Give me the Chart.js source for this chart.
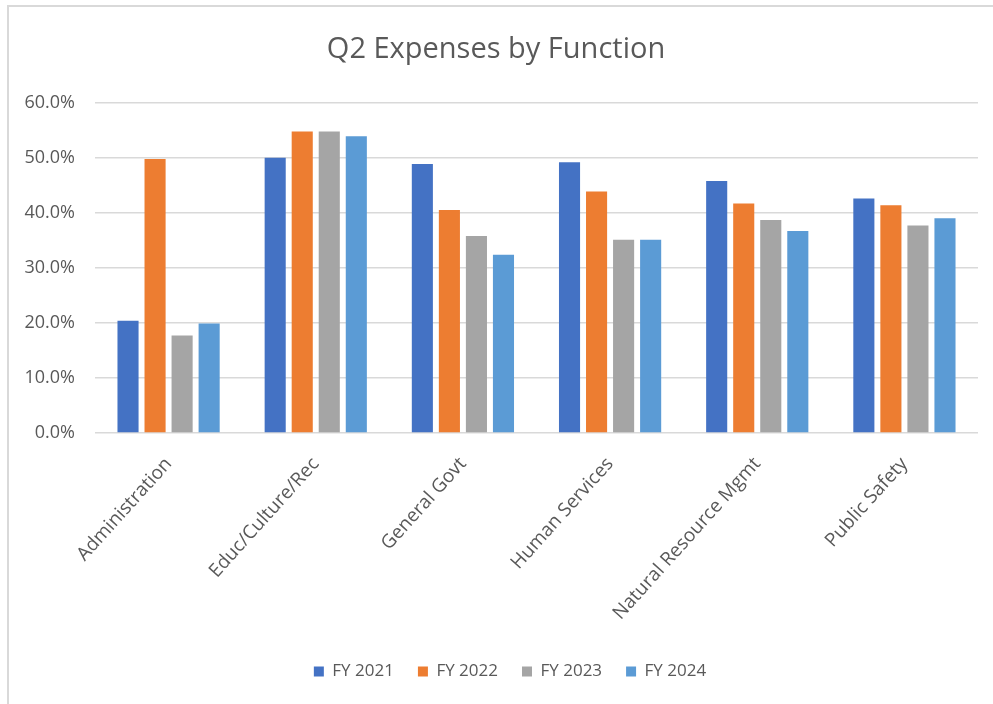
<!DOCTYPE html>
<html>
<head>
  <meta charset="UTF-8">
  <title>Q2 Expenses by Function</title>
  <script src="https://cdn.jsdelivr.net/npm/chart.js"></script>
  <style>
    html, body { margin: 0; padding: 0; background: #fff; }
    #wrap { position: relative; width: 993px; height: 704px; }
    #chart { position: absolute; left: 0; top: 0; }
    /* thin frame along the top and left edge */
    #frame {
      position: absolute; left: 7px; top: 5px; right: 0; bottom: 0;
      border-top: 2px solid #d9d9d9; border-left: 2px solid #d9d9d9;
      pointer-events: none;
    }
  </style>
</head>
<body>
  <div id="wrap">
    <canvas id="chart" width="993" height="704"></canvas>
    <div id="frame"></div>
  </div>
  <script>
    var categories = ['Administration', 'Educ/Culture/Rec', 'General Govt', 'Human Services', 'Natural Resource Mgmt', 'Public Safety'];
    var seriesNames = ['FY 2021', 'FY 2022', 'FY 2023', 'FY 2024'];
    var fy2021 = [20.4, 50.0, 48.9, 49.2, 45.8, 42.6];
    var fy2022 = [49.8, 54.8, 40.5, 43.9, 41.7, 41.4];
    var fy2023 = [17.7, 54.8, 35.8, 35.1, 38.7, 37.7];
    var fy2024 = [19.9, 53.9, 32.4, 35.1, 36.7, 39.0];
    var yTicks = [0, 10, 20, 30, 40, 50, 60];

    var colors = ['#4472C4', '#ED7D31', '#A5A5A5', '#5B9BD5'];
    var values = [fy2021, fy2022, fy2023, fy2024];
    var textColor = '#595959';
    var fontFamily = '"Open Sans", "Noto Sans", sans-serif';

    var datasets = seriesNames.map(function (name, i) {
      return {
        label: name,
        data: values[i],
        backgroundColor: colors[i],
        borderWidth: 0,
        categoryPercentage: 0.735,
        barPercentage: 0.78
      };
    });

    // nudge the legend a little right of centre
    var legendShift = {
      id: 'legendShift',
      afterLayout: function (chart) {
        chart.legend.left += 14;
        chart.legend.right += 14;
      }
    };

    new Chart(document.getElementById('chart').getContext('2d'), {
      type: 'bar',
      data: { labels: categories, datasets: datasets },
      plugins: [legendShift],
      options: {
        responsive: false,
        animation: false,
        layout: { padding: { left: 14, right: 15, top: 20, bottom: 14 } },
        plugins: {
          title: {
            display: true,
            text: 'Q2 Expenses by Function',
            color: textColor,
            font: { family: fontFamily, size: 29, weight: 'normal' },
            padding: { top: 12, bottom: 36 }
          },
          legend: {
            position: 'bottom',
            labels: {
              color: textColor,
              font: { family: fontFamily, size: 17 },
              boxWidth: 10,
              boxHeight: 10,
              padding: 24
            }
          },
          tooltip: { enabled: false }
        },
        scales: {
          x: {
            grid: { display: false },
            border: { display: false },
            ticks: {
              color: textColor,
              font: { family: fontFamily, size: 19 },
              minRotation: 48,
              maxRotation: 48,
              padding: 12
            },
            afterFit: function (scale) { scale.height = 206; }
          },
          y: {
            min: 0,
            max: 60,
            afterBuildTicks: function (scale) {
              scale.ticks = yTicks.map(function (v) { return { value: v }; });
            },
            grid: { color: '#d9d9d9', lineWidth: 1.5, drawTicks: false },
            border: { display: false },
            ticks: {
              color: textColor,
              font: { family: fontFamily, size: 18 },
              padding: 20,
              callback: function (v) { return v.toFixed(1) + '%'; }
            },
            afterFit: function (scale) { scale.width = 81; }
          }
        }
      }
    });
  </script>
</body>
</html>
